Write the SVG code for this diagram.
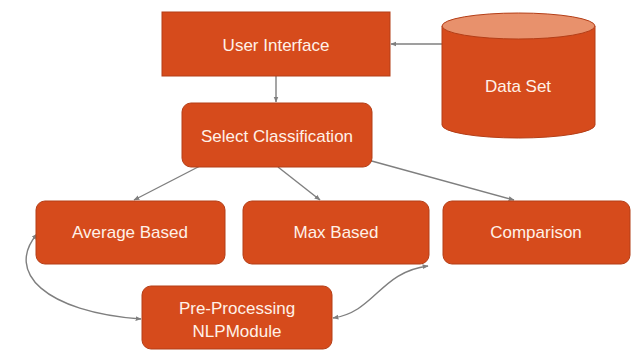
<svg xmlns="http://www.w3.org/2000/svg" width="635" height="351" viewBox="0 0 635 351">
  <defs>
    <style>
      .box { fill: #D64B1C; stroke: #B43E17; stroke-width: 1; }
      .lbl { font-family: "Liberation Sans", Arial, sans-serif; font-size: 17px; fill: #FFF1E8; text-anchor: middle; dominant-baseline: central; }
      .conn { fill: none; stroke: #7F7F7F; stroke-width: 1.4; }
    </style>
    <marker id="arrow" viewBox="0 0 10 10" refX="9" refY="5" markerWidth="6" markerHeight="6" orient="auto-start-reverse" markerUnits="userSpaceOnUse">
      <path d="M0,1 L10,5 L0,9 z" fill="#7F7F7F"/>
    </marker>
  </defs>

  <rect width="635" height="351" fill="#FFFFFF"/>

  <!-- connectors -->
  <g id="connectors">
    <line class="conn" x1="442" y1="44" x2="391" y2="44" marker-end="url(#arrow)"/>
    <line class="conn" x1="276" y1="76" x2="276" y2="102" marker-end="url(#arrow)"/>
    <line class="conn" x1="200" y1="166" x2="134" y2="200" marker-end="url(#arrow)"/>
    <line class="conn" x1="278" y1="167" x2="320" y2="200" marker-end="url(#arrow)"/>
    <line class="conn" x1="368" y1="160" x2="514" y2="200" marker-end="url(#arrow)"/>
    <path class="conn" d="M141,319 C45,312 5,272 37,234" marker-start="url(#arrow)" marker-end="url(#arrow)"/>
    <path class="conn" d="M333,318 C375,312 380,272 428,266" marker-start="url(#arrow)" marker-end="url(#arrow)"/>
  </g>

  <!-- nodes -->
  <g id="user-interface">
    <rect class="box" x="162" y="12" width="228" height="64"/>
    <text class="lbl" x="276" y="45">User Interface</text>
  </g>

  <g id="data-set">
    <path class="box" d="M442,26 L442,125 A76.5,13 0 0 0 595,125 L595,26"/>
    <ellipse cx="518.5" cy="26" rx="76.5" ry="13" fill="#E8916C" stroke="#B43E17" stroke-width="1"/>
    <text class="lbl" x="518" y="86">Data Set</text>
  </g>

  <g id="select-classification">
    <rect class="box" x="182" y="103" width="190" height="64" rx="9"/>
    <text class="lbl" x="277" y="136">Select Classification</text>
  </g>

  <g id="average-based">
    <rect class="box" x="36" y="201" width="189" height="63" rx="9"/>
    <text class="lbl" x="130" y="232">Average Based</text>
  </g>

  <g id="max-based">
    <rect class="box" x="243" y="201" width="186" height="63" rx="9"/>
    <text class="lbl" x="336" y="232">Max Based</text>
  </g>

  <g id="comparison">
    <rect class="box" x="443" y="201" width="187" height="63" rx="9"/>
    <text class="lbl" x="536" y="232">Comparison</text>
  </g>

  <g id="pre-processing">
    <rect class="box" x="142" y="286" width="190" height="63" rx="9"/>
    <text class="lbl" x="237" y="308">Pre-Processing</text>
    <text class="lbl" x="237" y="331">NLPModule</text>
  </g>
</svg>
